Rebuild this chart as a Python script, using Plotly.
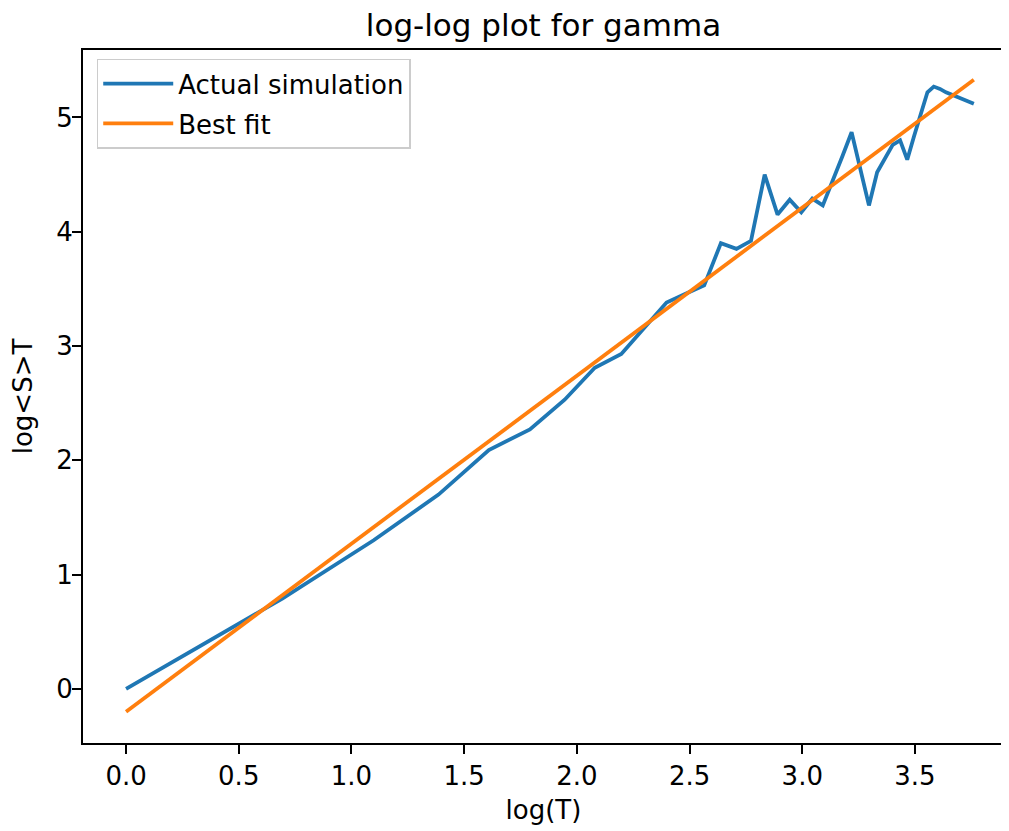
import numpy as np
import plotly.graph_objects as go

# T values (x axis shows natural log of T)
T_values = [1, 2, 3, 4, 5, 6, 7, 8, 9, 10, 11, 12, 13, 14, 15, 16, 17, 18, 19, 20,
            21, 22, 23, 24, 25, 26, 27, 28, 29, 30, 31, 32, 33, 34, 35, 36, 37, 38,
            39, 40, 41, 42, 43]
log_T = np.log(np.array(T_values, dtype=float))

# log<S>T from the simulation
log_S = [0.00, 0.79, 1.30, 1.70, 2.09, 2.27, 2.53, 2.81, 2.93, 3.17,
         3.38, 3.46, 3.53, 3.90, 3.85, 3.92, 4.50, 4.15, 4.28, 4.17,
         4.29, 4.23, 4.44, 4.66, 4.87, 4.55, 4.23, 4.52, 4.64, 4.76,
         4.80, 4.63, 4.84, 5.03, 5.22, 5.27, 5.25, 5.22, 5.20, 5.18,
         5.16, 5.14, 5.12]

# best fit line parameters
fit_slope = 1.470
fit_intercept = -0.20
best_fit = fit_slope * log_T + fit_intercept

x_ticks = [0.0, 0.5, 1.0, 1.5, 2.0, 2.5, 3.0, 3.5]
x_tick_text = ["0.0", "0.5", "1.0", "1.5", "2.0", "2.5", "3.0", "3.5"]
y_ticks = [0, 1, 2, 3, 4, 5]
y_tick_text = ["0", "1", "2", "3", "4", "5"]

FONT = "DejaVu Sans"
TXT = "black"

fig = go.Figure()
fig.add_trace(go.Scatter(x=log_T, y=log_S, mode="lines", name="Actual simulation",
                         legendgroup="a",
                         line=dict(color="#1f77b4", width=3.8)))
fig.add_trace(go.Scatter(x=log_T, y=best_fit, mode="lines", name="Best fit",
                         legendgroup="b",
                         line=dict(color="#ff7f0e", width=3.8)))

axis_common = dict(showline=True, linecolor="black", linewidth=1.8, mirror=True,
                   showgrid=False, zeroline=False, ticks="outside", ticklen=9,
                   tickwidth=1.8, tickcolor="black", automargin=False,
                   tickfont=dict(family=FONT, size=26, color=TXT))

# the page body adds an 8px offset, so the figure is sized to fit the window
fig.update_layout(
    width=1001, height=823,
    margin=dict(l=75, r=5, t=42, b=88),
    paper_bgcolor="white", plot_bgcolor="white",
    title=dict(text="log-log plot for gamma", x=0.5, xanchor="center",
               xref="paper", yref="paper", y=1.0, yanchor="bottom",
               pad=dict(b=14),
               font=dict(family=FONT, size=31, color=TXT)),
    xaxis=dict(range=[-0.191, 3.895], tickvals=x_ticks, ticktext=x_tick_text,
               title=dict(text="log(T)", font=dict(family=FONT, size=26, color=TXT),
                          standoff=11),
               **axis_common),
    yaxis=dict(range=[-0.474, 5.59], tickvals=y_ticks, ticktext=y_tick_text,
               ticklabelstandoff=-6,
               title=dict(text="log&lt;S&gt;T", font=dict(family=FONT, size=26, color=TXT),
                          standoff=17),
               **axis_common),
    legend=dict(x=0.0149, y=0.9875, xanchor="left", yanchor="top",
                bgcolor="rgba(255,255,255,0.8)", bordercolor="#cccccc", borderwidth=1.5,
                font=dict(family=FONT, size=26, color=TXT),
                traceorder="grouped", tracegroupgap=3,
                itemwidth=70),
    showlegend=True,
)

fig.write_html("out.html")
